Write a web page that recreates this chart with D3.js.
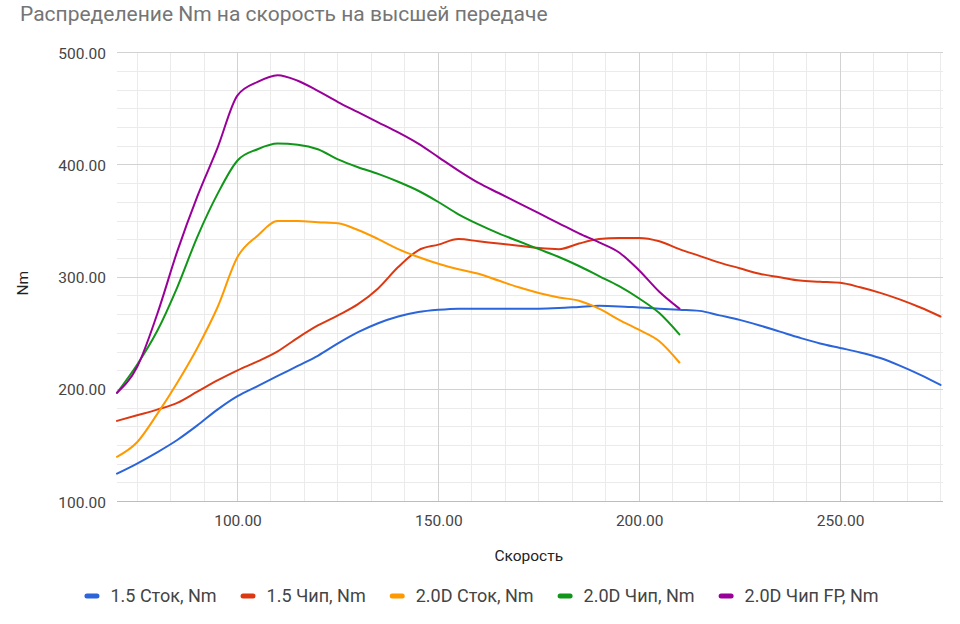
<!DOCTYPE html>
<html>
<head>
<meta charset="utf-8">
<script src="https://cdn.jsdelivr.net/npm/d3@7"></script>
<style>
  html, body { margin: 0; padding: 0; background: #fff; }
  svg { display: block; font-family: Roboto, "Noto Sans", sans-serif; }
</style>
</head>
<body>
<svg id="chart" width="960" height="624"></svg>
<script>
// ---- data ----
const title = "Распределение Nm на скорость на высшей передаче";
const xTitle = "Скорость";
const yTitle = "Nm";
const seriesNames = ["1.5 Сток, Nm", "1.5 Чип, Nm", "2.0D Сток, Nm", "2.0D Чип, Nm", "2.0D Чип FP, Nm"];
const seriesColors = ["#2b65d9", "#dc3912", "#ff9900", "#109618", "#990099"];

const speeds15 = [70,75,80,85,90,95,100,105,110,115,120,125,130,135,140,145,150,155,160,165,170,175,180,185,190,195,200,205,210,215,220,225,230,235,240,245,250,255,260,265,270,275];
const stock15 = [125,134,144,155,168,182,194,203,212,221,230,241,251,259,265,269,271,272,272,272,272,272,272.5,273.5,274.5,274,273,272,271,270,266,262,257,251.5,246,241,237,233,228,221,213,204];
const chip15  = [172,177,182,188,198,208,217,225,234,246,257,266,276,290,309,324,329,334,332,330,328,326,325,330,334,335,335,332,325,319,313,308,303,300,297,296,295,291,286,280,273,265];

const speeds20 = [70,75,80,85,90,95,100,105,110,115,120,125,130,135,140,145,150,155,160,165,170,175,180,185,190,195,200,205,210];
const stock20  = [140,153,178,206,237,273,318,337,350,350,349,348,342,334,325,318,312,307,303,297,291,286,282,279,272,262,253,243,224];
const chip20   = [197,222,252,291,336,374,404,414,419,418,414,405,398,392,385,377,367,356,347,339,332,325,318,310,301,292,281,268,249];
const chipFP20 = [197,220,267,323,372,415,462,474,480,475,466,456,447,438,429,419,407,395,384,375,366,357,348,339,331,322,306,287,272];

const xTicks = [100, 150, 200, 250];
const yTicks = [100, 200, 300, 400, 500];
const xDomain = [70, 275];
const yDomain = [100, 500];

const series = [
  {name: seriesNames[0], color: seriesColors[0], x: speeds15, y: stock15},
  {name: seriesNames[1], color: seriesColors[1], x: speeds15, y: chip15},
  {name: seriesNames[2], color: seriesColors[2], x: speeds20, y: stock20},
  {name: seriesNames[3], color: seriesColors[3], x: speeds20, y: chip20},
  {name: seriesNames[4], color: seriesColors[4], x: speeds20, y: chipFP20}
];

// ---- layout ----
const svg = d3.select("#chart");
const plot = {left: 117, right: 940.5, top: 52.7, bottom: 501.7};

const x = d3.scaleLinear().domain(xDomain).range([plot.left, plot.right]);
const y = d3.scaleLinear().domain(yDomain).range([plot.bottom, plot.top]);

// minor gridlines (6 subdivisions per major interval)
const xStep = (xTicks[1] - xTicks[0]) / 6;
const xMinor = d3.range(xTicks[0] - 3 * xStep, xDomain[1] + 0.01, xStep)
  .filter(v => v >= xDomain[0] && !xTicks.some(t => Math.abs(t - v) < 1e-6));
const yStep = (yTicks[1] - yTicks[0]) / 6;
const yMinor = d3.range(yDomain[0], yDomain[1] + 0.01, yStep)
  .filter(v => !yTicks.some(t => Math.abs(t - v) < 1e-6));

const grid = svg.append("g").attr("shape-rendering", "crispEdges");
grid.selectAll(".xm").data(xMinor).join("line")
  .attr("x1", d => x(d)).attr("x2", d => x(d))
  .attr("y1", plot.top).attr("y2", plot.bottom)
  .attr("stroke", "#ebebeb");
grid.selectAll(".ym").data(yMinor).join("line")
  .attr("x1", plot.left).attr("x2", plot.right + 2)
  .attr("y1", d => y(d)).attr("y2", d => y(d))
  .attr("stroke", "#ebebeb");
grid.selectAll(".xM").data(xTicks).join("line")
  .attr("x1", d => x(d)).attr("x2", d => x(d))
  .attr("y1", plot.top).attr("y2", plot.bottom)
  .attr("stroke", "#d2d2d2");
grid.selectAll(".yM").data(yTicks).join("line")
  .attr("x1", plot.left).attr("x2", plot.right + 2)
  .attr("y1", d => y(d)).attr("y2", d => y(d))
  .attr("stroke", d => d === yDomain[0] ? "#bdbdbd" : "#d2d2d2");

// axes (labels only)
const fmt = d3.format(".2f");
const yAxis = svg.append("g")
  .attr("transform", `translate(${plot.left - 11},0)`)
  .call(d3.axisLeft(y).tickValues(yTicks).tickFormat(fmt).tickSize(0).tickPadding(0));
const xAxis = svg.append("g")
  .attr("transform", `translate(0,${plot.bottom + 13})`)
  .call(d3.axisBottom(x).tickValues(xTicks).tickFormat(fmt).tickSize(0).tickPadding(0));
[xAxis, yAxis].forEach(a => {
  a.select(".domain").remove();
  a.selectAll("text")
    .attr("fill", "#444")
    .style("font-size", "15.5px")
    .style("font-family", "Roboto, sans-serif");
});
yAxis.selectAll("text").attr("dy", "0.35em");
xAxis.selectAll("text").attr("dy", "0.71em");

// lines
const line = d3.line().curve(d3.curveMonotoneX);
svg.append("g").selectAll("path").data(series).join("path")
  .attr("fill", "none")
  .attr("stroke", d => d.color)
  .attr("stroke-width", 2)
  .attr("stroke-linejoin", "round")
  .attr("stroke-linecap", "round")
  .attr("d", d => line(d.x.map((v, i) => [x(v), y(d.y[i])])));

// title
svg.append("text")
  .attr("x", 20).attr("y", 21)
  .attr("fill", "#757575")
  .style("font-size", "21px")
  .text(title);

// axis titles
svg.append("text")
  .attr("x", (plot.left + plot.right) / 2).attr("y", 561)
  .attr("text-anchor", "middle")
  .attr("fill", "#222")
  .style("font-size", "15.5px")
  .text(xTitle);
svg.append("text")
  .attr("transform", `translate(28,${(plot.top + plot.bottom) / 2 + 6}) rotate(-90)`)
  .attr("text-anchor", "middle")
  .attr("fill", "#222")
  .style("font-size", "15.5px")
  .text(yTitle);

// legend
const legend = svg.append("g");
const items = legend.selectAll("g").data(series).join("g");
items.append("rect")
  .attr("width", 15).attr("height", 5).attr("rx", 2.5).attr("ry", 2.5)
  .attr("y", -2.5)
  .attr("fill", d => d.color);
items.append("text")
  .attr("x", 26).attr("dy", "0.35em")
  .attr("fill", "#444")
  .style("font-size", "18px")
  .text(d => d.name);
let offset = 0;
const positions = [];
items.each(function() {
  const w = d3.select(this).select("text").node().getComputedTextLength();
  positions.push(offset);
  offset += 26 + w + 24;
});
const total = offset - 24;
const startX = 481.5 - total / 2;
items.attr("transform", (d, i) => `translate(${startX + positions[i]},596)`);
</script>
</body>
</html>
